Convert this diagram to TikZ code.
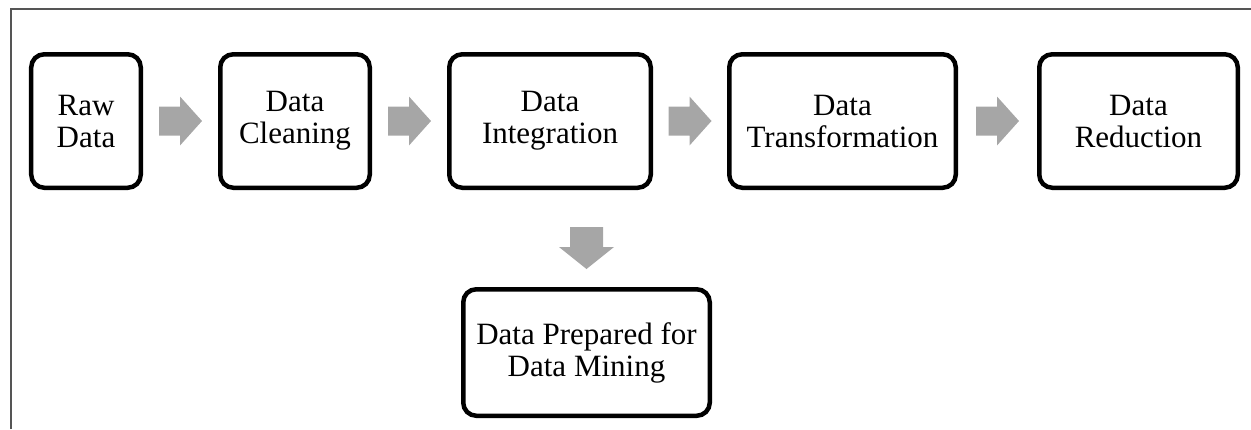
\documentclass[tikz,border=0pt]{standalone}
\usepackage{fontspec}
\setmainfont{Liberation Serif}
\usetikzlibrary{calc}
\definecolor{arrowgray}{HTML}{A6A6A6}
\definecolor{framegray}{HTML}{555555}
\tikzset{
  stepbox/.style={draw=black, line width=4.5bp, rounded corners=13bp, fill=white,
    align=center, inner sep=0pt,
    font=\fontsize{31bp}{32bp}\selectfont},
}
\newcommand{\rarrow}[1]{\fill[arrowgray] ($(#1)+(-21.5,-14.5)$) -- ++(21,0) -- ++(0,-10) -- ++(22,24.5) -- ++(-22,24.5) -- ++(0,-10) -- ++(-21,0) -- cycle;}
\begin{document}
\begin{tikzpicture}[x=1bp,y=-1bp]
\useasboundingbox (0,0) rectangle (1251,429);
\draw[framegray, line width=1.3bp] (11,429) -- (11,9) -- (1251,9);
\node[stepbox, minimum width=109.5bp, minimum height=133.5bp] (raw) at (86,121) {Raw\\Data};
\node[stepbox, minimum width=149.5bp, minimum height=133.5bp] (clean) at (295,121) {Data\\Cleaning};
\node[stepbox, minimum width=201.5bp, minimum height=133.5bp] (integ) at (550,121) {Data\\Integration};
\node[stepbox, minimum width=226.5bp, minimum height=133.5bp] (trans) at (842.5,121) {Data\\Transformation};
\node[stepbox, minimum width=198.5bp, minimum height=133.5bp] (reduc) at (1138.5,121) {Data\\Reduction};
\node[stepbox, minimum width=246.5bp, minimum height=126.5bp] (prep) at (586.5,352.5) {Data Prepared for\\Data Mining};
\coordinate (a1) at ($(raw.east)!0.5!(clean.west)$);
\coordinate (a2) at ($(clean.east)!0.5!(integ.west)$);
\coordinate (a3) at ($(integ.east)!0.5!(trans.west)$);
\coordinate (a4) at ($(trans.east)!0.5!(reduc.west)$);
\rarrow{a1}
\rarrow{a2}
\rarrow{a3}
\rarrow{a4}
\coordinate (d1) at (prep.north |- 0,248);
\fill[arrowgray] ($(d1)+(-16.5,-21)$) -- ++(33,0) -- ++(0,20) -- ++(11,0) -- ++(-27.5,22) -- ++(-27.5,-22) -- ++(11,0) -- cycle;
\end{tikzpicture}
\end{document}
